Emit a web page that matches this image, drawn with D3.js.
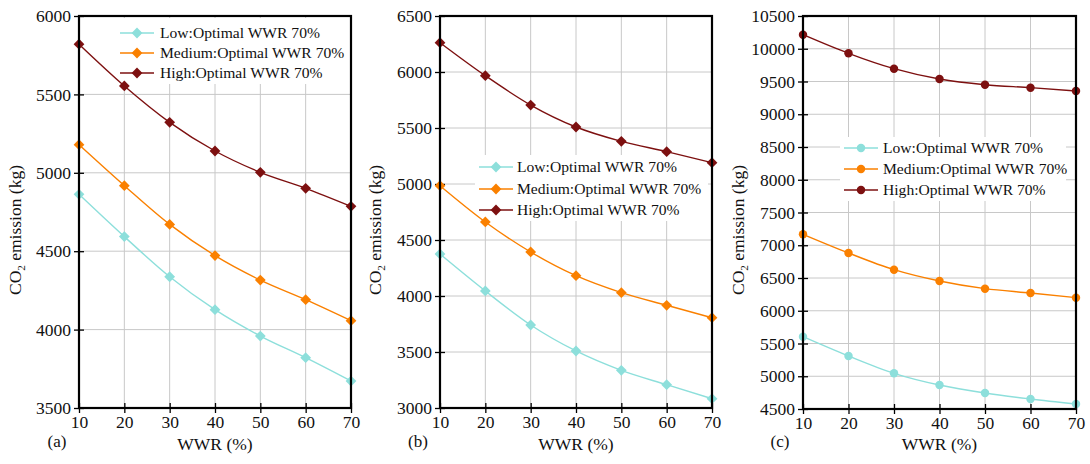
<!DOCTYPE html>
<html><head><meta charset="utf-8">
<script src="https://cdn.jsdelivr.net/npm/d3@7"></script>
<style>body{margin:0;background:#fff}svg{display:block}svg text{font-family:"Liberation Serif","Times New Roman",Tinos,Times,"DejaVu Serif",serif;fill:#111}</style>
</head><body><svg id="c" width="1090" height="464"></svg>
<script>
const wwr = [10, 20, 30, 40, 50, 60, 70];
const seriesNames = ["Low:Optimal WWR 70%", "Medium:Optimal WWR 70%", "High:Optimal WWR 70%"];
const colors = ["#8ddfdb", "#fa8000", "#7d1010"];
// panel (a)
const aLow = [4863, 4593, 4337, 4127, 3959, 3821, 3672];
const aMed = [5179, 4918, 4671, 4472, 4316, 4191, 4057];
const aHigh = [5820, 5554, 5322, 5139, 5003, 4901, 4786];
const aTicks = [3500, 4000, 4500, 5000, 5500, 6000];
// panel (b)
const bLow = [4375, 4045, 3741, 3509, 3336, 3208, 3083];
const bMed = [4985, 4661, 4393, 4181, 4030, 3917, 3806];
const bHigh = [6262, 5967, 5705, 5509, 5381, 5289, 5190];
const bTicks = [3000, 3500, 4000, 4500, 5000, 5500, 6000, 6500];
// panel (c)
const cLow = [5604, 5309, 5045, 4866, 4744, 4653, 4576];
const cMed = [7167, 6882, 6627, 6454, 6337, 6271, 6200];
const cHigh = [10215, 9930, 9696, 9538, 9451, 9406, 9355];
const cTicks = [4500, 5000, 5500, 6000, 6500, 7000, 7500, 8000, 8500, 9000, 9500, 10000, 10500];
const panelLabels = ["(a)", "(b)", "(c)"];

const FF = '"Liberation Serif","Times New Roman",Tinos,Times,"DejaVu Serif",serif';
const panels = [
  {series:[aLow,aMed,aHigh], ticks:aTicks, x0:79, x1:351, y0:16, y1:408, marker:"diamond",
   leg:{x:116,y:18,w:229,h:66,lx0:120,lx1:154,tx:160,rows:[33,53,73]}, ylx:21, lab:57},
  {series:[bLow,bMed,bHigh], ticks:bTicks, x0:440, x1:712, y0:16, y1:408, marker:"diamond",
   leg:{x:475,y:155,w:233,h:66,lx0:479,lx1:513,tx:517,rows:[167,189,210]}, ylx:381, lab:418},
  {series:[cLow,cMed,cHigh], ticks:cTicks, x0:803, x1:1076, y0:16, y1:409, marker:"circle",
   leg:{x:840,y:137,w:226,h:64,lx0:844,lx1:878,tx:883,rows:[148,169,190]}, ylx:744, lab:780}
];

const svg = d3.select("#c");
panels.forEach((p, pi) => {
  const g = svg.append("g");
  const x = d3.scaleLinear().domain([10,70]).range([p.x0,p.x1]);
  const y = d3.scaleLinear().domain([p.ticks[0], p.ticks[p.ticks.length-1]]).range([p.y1,p.y0]);
  const sym = d3.symbol().type(p.marker==="diamond"?d3.symbolSquare:d3.symbolCircle).size(p.marker==="diamond"?58:56);
  const rot = p.marker==="diamond"?" rotate(45)":"";
  // grid
  g.selectAll(".vg").data(wwr).join("line").attr("x1",d=>x(d)).attr("x2",d=>x(d)).attr("y1",p.y0).attr("y2",p.y1)
    .attr("stroke","#c8c8c8").attr("stroke-width",1);
  g.selectAll(".hg").data(p.ticks).join("line").attr("x1",p.x0).attr("x2",p.x1).attr("y1",d=>y(d)).attr("y2",d=>y(d))
    .attr("stroke","#c8c8c8").attr("stroke-width",1);
  // legend background (behind data)
  const L = p.leg;
  g.append("rect").attr("x",L.x).attr("y",L.y).attr("width",L.w).attr("height",L.h).attr("fill","#fff");
  // axes
  const ya = g.append("g").attr("transform",`translate(${p.x0},0)`).call(d3.axisLeft(y).tickValues(p.ticks).tickSize(5).tickPadding(3).tickFormat(d3.format("d")));
  const xa = g.append("g").attr("transform",`translate(0,${p.y1})`).call(d3.axisBottom(x).tickValues(wwr).tickSize(5).tickPadding(3).tickFormat(d3.format("d")));
  [ya,xa].forEach(a=>{a.attr("font-family",FF).attr("font-size",17.5); a.select(".domain").remove(); a.selectAll("line").attr("stroke","#000").attr("stroke-width",1.3);
    a.selectAll("text").attr("font-family",FF).attr("font-size",17.5).attr("fill","#111");});
  ya.selectAll(".tick line").attr("x2",-5).attr("x1",5);
  xa.selectAll(".tick line").attr("y1",-5).attr("y2",5);
  // lines & markers
  const line = d3.line().x((d,i)=>x(wwr[i])).y(d=>y(d)).curve(d3.curveMonotoneX);
  p.series.forEach((s,si)=>{
    g.append("path").datum(s).attr("d",line).attr("fill","none").attr("stroke",colors[si]).attr("stroke-width",1.4);
    g.selectAll(null).data(s).join("path").attr("d",sym())
      .attr("transform",(d,i)=>`translate(${x(wwr[i])},${y(d)})`+rot)
      .attr("fill",colors[si]);
  });
  // frame
  g.append("rect").attr("x",p.x0).attr("y",p.y0).attr("width",p.x1-p.x0).attr("height",p.y1-p.y0)
    .attr("fill","none").attr("stroke","#000").attr("stroke-width",2.2);
  // legend entries
  seriesNames.forEach((n,si)=>{
    const yy = L.rows[si];
    g.append("line").attr("x1",L.lx0).attr("x2",L.lx1).attr("y1",yy).attr("y2",yy).attr("stroke",colors[si]).attr("stroke-width",1.6);
    g.append("path").attr("d",sym()).attr("transform",`translate(${(L.lx0+L.lx1)/2},${yy})`+rot).attr("fill",colors[si]);
    g.append("text").attr("x",L.tx).attr("y",yy+5).attr("font-family",FF).attr("font-size",15.6).text(n);
  });
  // y label
  const yl = g.append("text").attr("transform",`translate(${p.ylx},230) rotate(-90)`).attr("text-anchor","middle").attr("font-family",FF).attr("font-size",17.5);
  yl.append("tspan").text("CO");
  yl.append("tspan").attr("dy",4).attr("font-size",11).text("2");
  yl.append("tspan").attr("dy",-4).text(" emission (kg)");
  // x label
  g.append("text").attr("x",(p.x0+p.x1)/2).attr("y",450).attr("text-anchor","middle").attr("font-family",FF).attr("font-size",17.5).text("WWR (%)");
  g.append("text").attr("x",p.lab).attr("y",447).attr("text-anchor","middle").attr("font-family",FF).attr("font-size",17).text(panelLabels[pi]);
});
</script></body></html>
